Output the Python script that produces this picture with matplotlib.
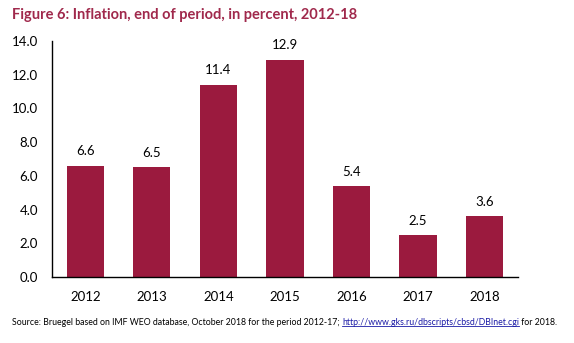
import matplotlib.pyplot as plt
from matplotlib.ticker import FormatStrFormatter

years = ["2012", "2013", "2014", "2015", "2016", "2017", "2018"]
inflation = [6.6, 6.5, 11.4, 12.9, 5.4, 2.5, 3.6]

bar_color = "#9b1a3e"
title_color = "#a0294c"

plt.rcParams["font.family"] = ["Lato", "DejaVu Sans"]

fig = plt.figure(figsize=(5.74, 3.43), dpi=100)
ax = fig.add_axes([0.0906, 0.1924, 0.8118, 0.6881])

x = range(len(years))
bars = ax.bar(x, inflation, width=0.56, color=bar_color)
for rect, v in zip(bars, inflation):
    ax.annotate(f"{v:.1f}", (rect.get_x() + rect.get_width() / 2, v),
                xytext=(0, 6), textcoords="offset points",
                ha="center", va="bottom", fontsize=9.5)

ax.set_xlim(-0.5, len(years) - 0.5)
ax.set_ylim(0, 14)
ax.set_yticks(range(0, 15, 2))
ax.yaxis.set_major_formatter(FormatStrFormatter("%.1f"))
ax.set_xticks(list(x))
ax.set_xticklabels(years)
ax.tick_params(axis="both", length=0, labelsize=9.5)
ax.tick_params(axis="y", pad=10)
ax.tick_params(axis="x", pad=10)
for side in ("top", "right"):
    ax.spines[side].set_visible(False)
for side in ("left", "bottom"):
    ax.spines[side].set_linewidth(1.0)

fig.text(0.021, 0.955, "Figure 6: Inflation, end of period, in percent, 2012-18",
         fontsize=10.5, fontweight="bold", color=title_color, va="center")

# source line with an underlined link in the middle
fs = 6.3
src = fig.text(0.021, 0.06,
               "Source: Bruegel based on IMF WEO database, October 2018 for the period 2012-17; ",
               fontsize=fs, va="center")
fig.canvas.draw()
bb = src.get_window_extent().transformed(fig.transFigure.inverted())
link = fig.text(bb.x1, 0.06, "http://www.gks.ru/dbscripts/cbsd/DBInet.cgi",
                fontsize=fs, va="center", color="#1a1aa6")
fig.canvas.draw()
lb = link.get_window_extent().transformed(fig.transFigure.inverted())
fig.add_artist(plt.Line2D([lb.x0, lb.x1], [lb.y0 + 0.004, lb.y0 + 0.004],
                          transform=fig.transFigure, color="#1a1aa6", lw=0.6))
fig.text(lb.x1, 0.06, " for 2018.", fontsize=fs, va="center")

fig.savefig("out.png", dpi=100)
